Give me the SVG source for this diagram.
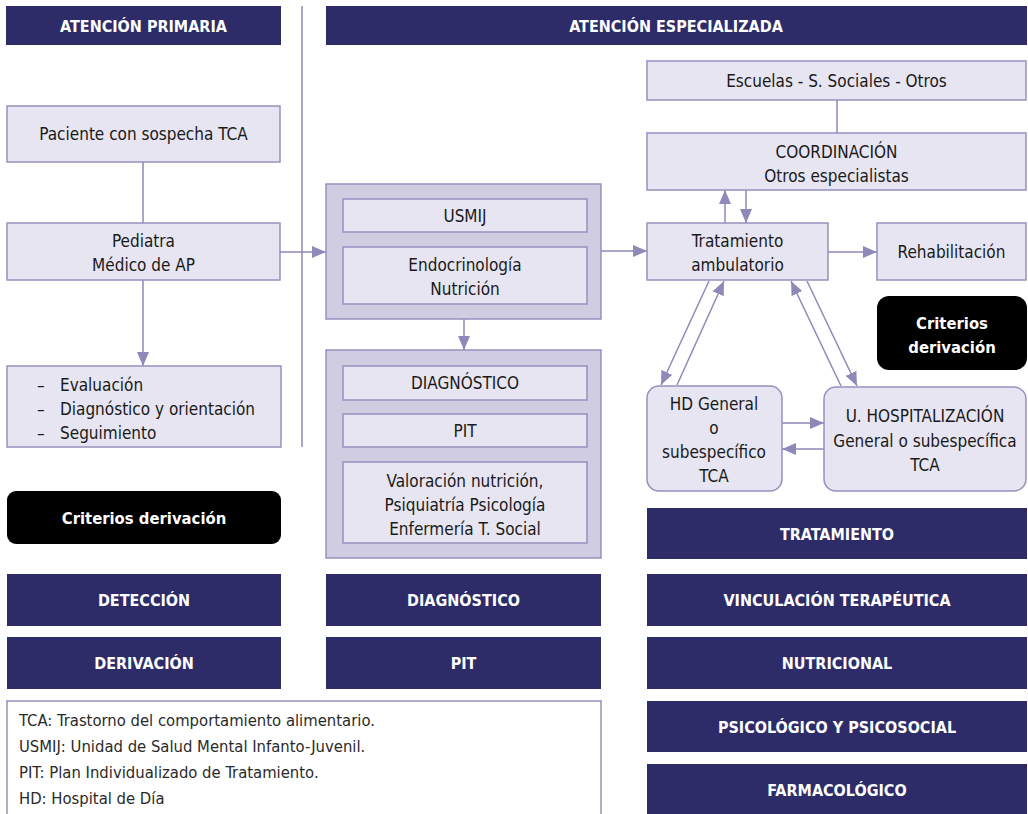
<svg xmlns="http://www.w3.org/2000/svg" width="1028" height="814" viewBox="0 0 1028 814">
<style>
.hdr{fill:#2d2c69}
.hdrt{fill:#ffffff;font-family:"DejaVu Sans Condensed","Liberation Sans Narrow","Liberation Sans",sans-serif;font-weight:bold;font-size:16px;text-anchor:middle}
.box{fill:#e6e5f1;stroke:#9591bf;stroke-width:1.5}
.outer{fill:#d0cde2;stroke:#9591bf;stroke-width:1.5}
.blk{fill:#000000}
.blkt{fill:#ffffff;font-family:"DejaVu Sans Condensed","Liberation Sans Narrow","Liberation Sans",sans-serif;font-weight:bold;font-size:16.5px;text-anchor:middle}
.t{fill:#1a1a1a;font-family:"DejaVu Sans Condensed","Liberation Sans Narrow","Liberation Sans",sans-serif;font-size:17px;text-anchor:middle}
.tl{fill:#1a1a1a;font-family:"DejaVu Sans Condensed","Liberation Sans Narrow","Liberation Sans",sans-serif;font-size:17px}
.leg{fill:#2a2a2a;font-family:"DejaVu Sans Condensed","Liberation Sans Narrow","Liberation Sans",sans-serif;font-size:16.5px}
.ln{stroke:#8d89b9;stroke-width:1.5;fill:none}
.arr{stroke:#8d89b9;stroke-width:1.5;fill:none;marker-end:url(#ah)}
</style>
<defs>
<marker id="ah" viewBox="0 0 14 12" refX="14" refY="6" markerWidth="14" markerHeight="12" markerUnits="userSpaceOnUse" orient="auto">
<path d="M0,0 L14,6 L0,12 Z" fill="#8d89b9"/>
</marker>
</defs>
<rect width="1028" height="814" fill="#ffffff"/>

<g id="headers">
<rect class="hdr" x="6" y="6" width="275" height="39"/>
<text class="hdrt" x="143.5" y="32">ATENCIÓN PRIMARIA</text>
<rect class="hdr" x="326" y="6" width="701" height="39"/>
<text class="hdrt" x="676" y="32">ATENCIÓN ESPECIALIZADA</text>
</g>

<line class="ln" x1="302" y1="6" x2="302" y2="447"/>

<g id="connectors">
<line class="ln" x1="143" y1="162" x2="143" y2="223"/>
<line class="arr" x1="143" y1="280" x2="143" y2="366"/>
<line class="arr" x1="280" y1="252" x2="326" y2="252"/>
<line class="arr" x1="464" y1="319" x2="464" y2="350"/>
<line class="arr" x1="601" y1="251" x2="647" y2="251"/>
<line class="ln" x1="837" y1="100" x2="837" y2="133"/>
<line class="arr" x1="725" y1="223" x2="725" y2="190"/>
<line class="arr" x1="746" y1="190" x2="746" y2="223"/>
<line class="arr" x1="828" y1="252" x2="877" y2="252"/>
<line class="arr" x1="709" y1="281" x2="661" y2="385"/>
<line class="arr" x1="677" y1="385" x2="724" y2="281"/>
<line class="arr" x1="841" y1="386" x2="791" y2="281"/>
<line class="arr" x1="807" y1="281" x2="857" y2="386"/>
<line class="arr" x1="782" y1="423" x2="824" y2="423"/>
<line class="arr" x1="824" y1="449" x2="782" y2="449"/>
</g>

<g id="paciente">
<rect class="box" x="7" y="106" width="273" height="56"/>
<text class="t" x="143.5" y="140">Paciente con sospecha TCA</text>
</g>
<g id="pediatra">
<rect class="box" x="7" y="223" width="273" height="57"/>
<text class="t" x="143.5" y="247">Pediatra</text>
<text class="t" x="143.5" y="271">Médico de AP</text>
</g>
<g id="evaluacion">
<rect class="box" x="7" y="366" width="274" height="81"/>
<text class="tl" x="37" y="391">–</text>
<text class="tl" x="60" y="391">Evaluación</text>
<text class="tl" x="37" y="415">–</text>
<text class="tl" x="60" y="415">Diagnóstico y orientación</text>
<text class="tl" x="37" y="439">–</text>
<text class="tl" x="60" y="439">Seguimiento</text>
</g>
<g id="criterios1">
<rect class="blk" x="7" y="491" width="274" height="53" rx="9"/>
<text class="blkt" x="144" y="524">Criterios derivación</text>
</g>

<g id="especialistas">
<rect class="outer" x="326" y="184" width="275" height="135"/>
<rect class="box" x="343" y="199" width="244" height="33"/>
<text class="t" x="465" y="222">USMIJ</text>
<rect class="box" x="343" y="247" width="244" height="57"/>
<text class="t" x="465" y="271">Endocrinología</text>
<text class="t" x="465" y="295">Nutrición</text>
</g>
<g id="diagnostico">
<rect class="outer" x="326" y="350" width="275" height="208"/>
<rect class="box" x="343" y="366" width="244" height="34"/>
<text class="t" x="465" y="389">DIAGNÓSTICO</text>
<rect class="box" x="343" y="414" width="244" height="33"/>
<text class="t" x="465" y="437">PIT</text>
<rect class="box" x="343" y="462" width="244" height="81"/>
<text class="t" x="465" y="487">Valoración nutrición,</text>
<text class="t" x="465" y="511">Psiquiatría Psicología</text>
<text class="t" x="465" y="535">Enfermería T. Social</text>
</g>

<g id="escuelas">
<rect class="box" x="647" y="61" width="379" height="39"/>
<text class="t" x="836.5" y="87">Escuelas - S. Sociales - Otros</text>
</g>
<g id="coordinacion">
<rect class="box" x="647" y="133" width="379" height="57"/>
<text class="t" x="836.5" y="158">COORDINACIÓN</text>
<text class="t" x="836.5" y="182">Otros especialistas</text>
</g>
<g id="tratamiento">
<rect class="box" x="647" y="223" width="181" height="57"/>
<text class="t" x="737.5" y="247">Tratamiento</text>
<text class="t" x="737.5" y="271">ambulatorio</text>
</g>
<g id="rehabilitacion">
<rect class="box" x="877" y="223" width="149" height="57"/>
<text class="t" x="951.5" y="258">Rehabilitación</text>
</g>
<g id="criterios2">
<rect class="blk" x="877" y="296" width="150" height="74" rx="12"/>
<text class="blkt" x="952" y="329">Criterios</text>
<text class="blkt" x="952" y="353">derivación</text>
</g>
<g id="hd">
<rect class="box" x="647" y="386" width="135" height="105" rx="12"/>
<text class="t" x="714" y="410">HD General</text>
<text class="t" x="714" y="434">o</text>
<text class="t" x="714" y="458">subespecífico</text>
<text class="t" x="714" y="482">TCA</text>
</g>
<g id="hospitalizacion">
<rect class="box" x="824" y="387" width="202" height="104" rx="12"/>
<text class="t" x="925" y="422">U. HOSPITALIZACIÓN</text>
<text class="t" x="925" y="447">General o subespecífica</text>
<text class="t" x="925" y="471">TCA</text>
</g>

<g id="bands">
<rect class="hdr" x="647" y="508" width="380" height="51"/>
<text class="hdrt" x="837" y="540">TRATAMIENTO</text>
<rect class="hdr" x="7" y="574" width="274" height="52"/>
<text class="hdrt" x="144" y="606">DETECCIÓN</text>
<rect class="hdr" x="326" y="574" width="275" height="52"/>
<text class="hdrt" x="463.5" y="606">DIAGNÓSTICO</text>
<rect class="hdr" x="647" y="574" width="380" height="52"/>
<text class="hdrt" x="837" y="606">VINCULACIÓN TERAPÉUTICA</text>
<rect class="hdr" x="7" y="637" width="274" height="52"/>
<text class="hdrt" x="144" y="669">DERIVACIÓN</text>
<rect class="hdr" x="326" y="637" width="275" height="52"/>
<text class="hdrt" x="463.5" y="669">PIT</text>
<rect class="hdr" x="647" y="637" width="380" height="52"/>
<text class="hdrt" x="837" y="669">NUTRICIONAL</text>
<rect class="hdr" x="647" y="701" width="380" height="51"/>
<text class="hdrt" x="837" y="733">PSICOLÓGICO Y PSICOSOCIAL</text>
<rect class="hdr" x="647" y="764" width="380" height="50"/>
<text class="hdrt" x="837" y="796">FARMACOLÓGICO</text>
</g>

<g id="legend">
<rect x="7" y="701" width="594" height="120" fill="#ffffff" stroke="#9591bf" stroke-width="1.5"/>
<text class="leg" x="19" y="726">TCA: Trastorno del comportamiento alimentario.</text>
<text class="leg" x="19" y="752">USMIJ: Unidad de Salud Mental Infanto-Juvenil.</text>
<text class="leg" x="19" y="778">PIT: Plan Individualizado de Tratamiento.</text>
<text class="leg" x="19" y="804">HD: Hospital de Día</text>
</g>
</svg>
